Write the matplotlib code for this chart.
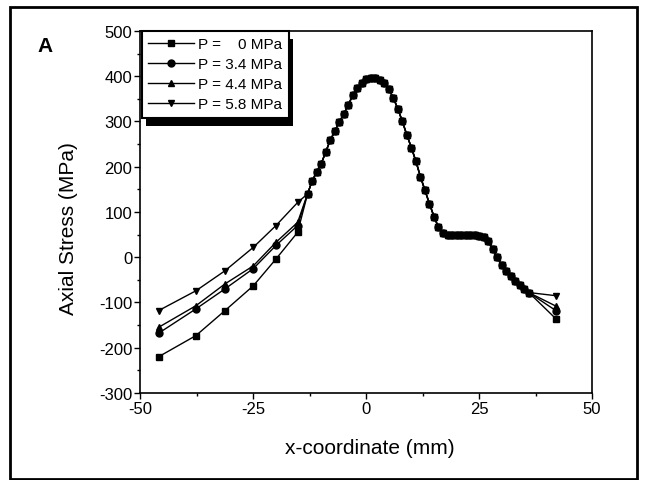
import matplotlib
matplotlib.use("Agg")
import matplotlib.pyplot as plt
from matplotlib.patches import Rectangle
from matplotlib.ticker import MultipleLocator

plt.rcParams['font.family'] = ['Liberation Sans', 'DejaVu Sans']
plt.rcParams['axes.unicode_minus'] = False

# ---- data ----
x_left = [-46, -37.7, -31.3, -25, -20, -15.2]
stress_left_p0 = [-220, -173, -118, -63, -4, 55]
stress_left_p34 = [-168, -114, -70, -25, 26, 70]
stress_left_p44 = [-155, -107, -59, -19, 33, 77]
stress_left_p58 = [-118, -74, -30, 22, 70, 121]

x_mid = [-13, -12, -11, -10, -9, -8, -7, -6, -5, -4, -3, -2, -1, 0, 1, 2, 3, 4,
         5, 6, 7, 8, 9, 10, 11, 12, 13, 14, 15, 16, 17, 18, 19, 20, 21, 22, 23,
         24, 25, 26, 27, 28, 29, 30, 31, 32, 33, 34, 35, 36]
stress_mid = [140, 168, 188, 206, 232, 258, 278, 298, 316, 336, 358, 374, 386,
              393, 397, 397, 392, 384, 371, 352, 328, 300, 270, 242, 212, 178,
              148, 118, 90, 66, 53, 50, 50, 50, 50, 50, 50, 50, 48, 45, 35, 18,
              0, -18, -30, -41, -52, -62, -71, -78]

x_end = [42]
stress_end_p0 = [-136]
stress_end_p34 = [-118]
stress_end_p44 = [-108]
stress_end_p58 = [-85]

labels = ["P =    0 MPa", "P = 3.4 MPa", "P = 4.4 MPa", "P = 5.8 MPa"]
markers = ["s", "o", "^", "v"]
left_sets = [stress_left_p0, stress_left_p34, stress_left_p44, stress_left_p58]
end_sets = [stress_end_p0, stress_end_p34, stress_end_p44, stress_end_p58]

fig = plt.figure(figsize=(6.48, 4.81), dpi=100)
ax = fig.add_axes([0.2168, 0.1809, 0.6968, 0.7526])

for lab, mk, yl, ye in zip(labels, markers, left_sets, end_sets):
    xs = x_left + x_mid + x_end
    ys = yl + stress_mid + ye
    ax.plot(xs, ys, color='black', lw=1.0, marker=mk, ms=5,
            mfc='black', mec='black', label=lab)

ax.set_xlim(-50, 50)
ax.set_ylim(-300, 500)
ax.xaxis.set_major_locator(MultipleLocator(25))
ax.xaxis.set_minor_locator(MultipleLocator(12.5))
ax.yaxis.set_major_locator(MultipleLocator(100))
ax.yaxis.set_minor_locator(MultipleLocator(50))
ax.tick_params(which='major', direction='out', length=4, width=1, labelsize=12, pad=2)
ax.tick_params(which='minor', direction='out', length=2.5, width=1)
for s in ax.spines.values():
    s.set_linewidth(1.2)

ax.set_xlabel("x-coordinate (mm)", fontsize=15)
ax.set_ylabel("Axial Stress (MPa)", fontsize=15)
ax.xaxis.set_label_coords(0.508, -0.125)
ax.yaxis.set_label_coords(-0.138, 0.457)

leg = ax.legend(loc='upper left', bbox_to_anchor=(0.003, 1.0), borderaxespad=0,
                fontsize=11, frameon=True, fancybox=False, edgecolor='black',
                framealpha=1, handlelength=3.0, handletextpad=0.3,
                labelspacing=0.4, borderpad=0.4)
leg.get_frame().set_linewidth(1.5)
leg.set_zorder(6)

fig.text(45 / 648, 1 - 47 / 481, "A", fontsize=15, fontweight='bold',
         ha='center', va='center')

# outer frame
fig.patches.append(Rectangle((10 / 648, 1 / 481), 627 / 648, 472 / 481,
                             transform=fig.transFigure, fill=False,
                             edgecolor='black', linewidth=2))

# legend drop shadow
fig.canvas.draw()
bb = leg.get_window_extent(fig.canvas.get_renderer())
inv = fig.transFigure.inverted()
(x0, y0) = inv.transform((bb.x0 + 4, bb.y0 - 8))
(x1, y1) = inv.transform((bb.x1 + 4, bb.y1 - 8))
ax.add_patch(Rectangle((x0, y0), x1 - x0, y1 - y0, transform=fig.transFigure,
                       facecolor='black', edgecolor='none', zorder=5.5,
                       clip_on=False))

fig.savefig("out.png", dpi=100)
